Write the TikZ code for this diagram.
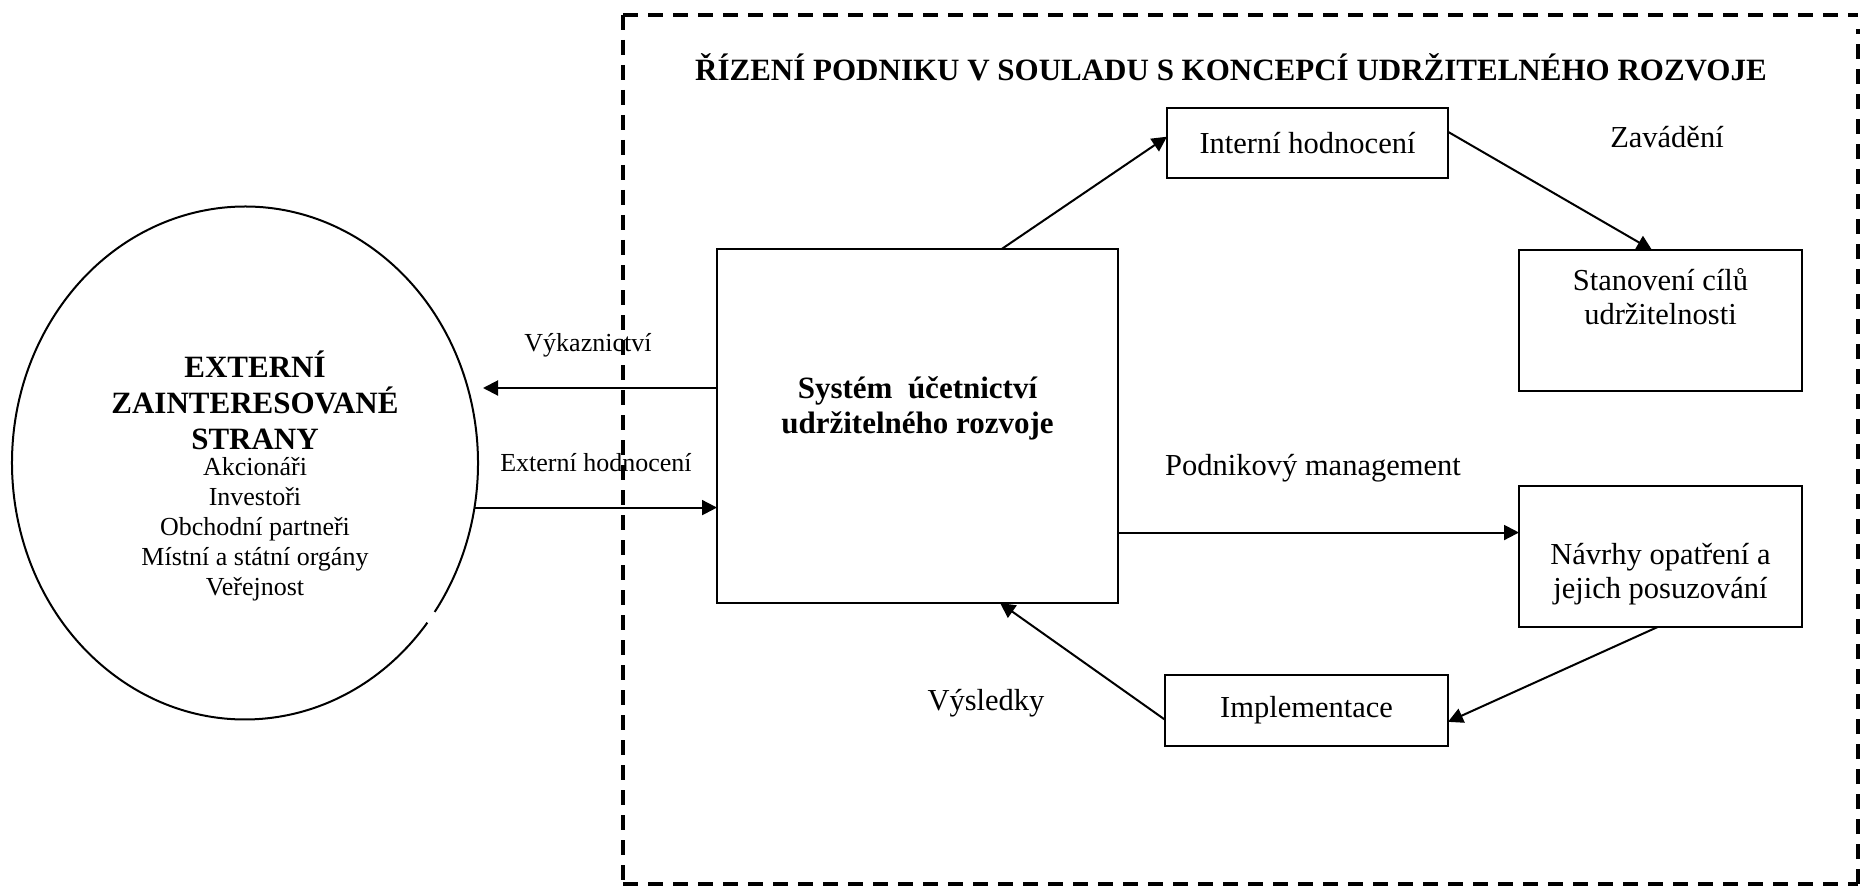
\documentclass[tikz,border=0pt]{standalone}
\usepackage{fontspec}
\setmainfont{Liberation Serif}
\usetikzlibrary{arrows.meta,calc,shapes.geometric}

\begin{document}
\begin{tikzpicture}[x=0.5pt,y=-0.5pt,
  box/.style={draw,line width=1pt,rectangle,inner sep=0pt,outer sep=0pt},
  txt/.style={font=\fontsize{15.25pt}{17pt}\selectfont,align=center,inner sep=0pt},
  btxt/.style={font=\fontsize{15.5pt}{17.5pt}\selectfont\bfseries,align=center,inner sep=0pt},
  small/.style={font=\fontsize{13pt}{15pt}\selectfont,align=center,inner sep=0pt},
  conn/.style={line width=1pt,-{Triangle[length=7.5pt,width=7.5pt]}},
  frame/.style={dash pattern=on 7.5pt off 5pt}
]
\useasboundingbox (0,0) rectangle (1860,888);

% dashed frame of the company management area
\coordinate (ftl) at (623,15);
\coordinate (ftr) at (1858,15);
\coordinate (fbl) at (623,884);
\coordinate (fbr) at (1858,884);
\draw[frame,line width=1.6pt] (ftl) -- (fbl);
\draw[frame,line width=1.6pt] (ftl) -- (ftr);
\draw[frame,line width=2.1pt] (fbr) -- ([yshift=-7pt]ftr);
\draw[frame,line width=2.1pt] (fbl) -- (fbr);

\node[btxt] (title) at (1231,67) {ŘÍZENÍ PODNIKU V SOULADU S KONCEPCÍ UDRŽITELNÉHO ROZVOJE};

% external stakeholders (ellipse with a small break in its outline)
\node[ellipse,draw=none,minimum width=233pt,minimum height=256.5pt,inner sep=0pt,outer sep=0pt] (ext) at (245,463) {};
\draw[line width=1pt] ([shift={(-35.5:116.5pt and 128.25pt)}]ext.center)
  arc[start angle=-35.5,end angle=321.5,x radius=116.5pt,y radius=128.25pt];
\node[btxt,font=\fontsize{15.5pt}{18pt}\selectfont\bfseries] (exthead) at (255,400) {EXTERNÍ\\ZAINTERESOVANÉ\\STRANY};
\node[small] (extlist) at (255,529) {Akcionáři\\Investoři\\Obchodní partneři\\Místní a státní orgány\\Veřejnost};

% boxes
\node[box,minimum width=200.5pt,minimum height=177pt] (sys) at (917.5,426) {};
\node[btxt] (systxt) at (917.5,408) {Systém\ \ účetnictví\\udržitelného rozvoje};

\node[box,txt,minimum width=140.5pt,minimum height=35pt] (int) at (1307.5,143) {Interní hodnocení};

\node[box,minimum width=141.5pt,minimum height=70.5pt] (stan) at (1660.5,320.5) {};
\node[txt] (stantxt) at (1660.5,297) {Stanovení cílů\\udržitelnosti};

\node[box,minimum width=141.5pt,minimum height=70.5pt] (nav) at (1660.5,556.5) {};
\node[txt] (navtxt) at (1660.5,574) {Návrhy opatření a\\jejich posuzování};

\node[box,txt,minimum width=141.5pt,minimum height=35.5pt] (impl) at (1306.5,710.5) {Implementace};

% free labels
\node[txt] (zav) at (1667,137) {Zavádění};
\node[txt] (podn) at (1313,468) {Podnikový management};
\node[txt] (vysl) at (986,703) {Výsledky};
\node[small] (vyktxt) at (588,345) {Výkaznictví};
\node[small] (exttxt) at (596,463) {Externí hodnocení};

% connectors
\coordinate (vyk) at (483,388);
\draw[conn] (sys.west |- vyk) -- (vyk);
\draw[conn] (ext.-11) -- (ext.-11 -| sys.west);
\draw[conn] ($(sys.north west)!0.71!(sys.north east)$) -- ($(int.north west)!0.41!(int.south west)$);
\draw[conn] ($(int.north east)!0.34!(int.south east)$) -- ($(stan.north west)!0.47!(stan.north east)$);
\coordinate (navin) at ($(nav.north west)!0.33!(nav.south west)$);
\draw[conn] (sys.east |- navin) -- (navin);
\draw[conn] ($(nav.south west)!0.49!(nav.south east)$) -- ($(impl.north east)!0.66!(impl.south east)$);
\draw[conn] ($(impl.north west)!0.63!(impl.south west)$) -- ($(sys.south west)!0.706!(sys.south east)$);
\end{tikzpicture}
\end{document}
